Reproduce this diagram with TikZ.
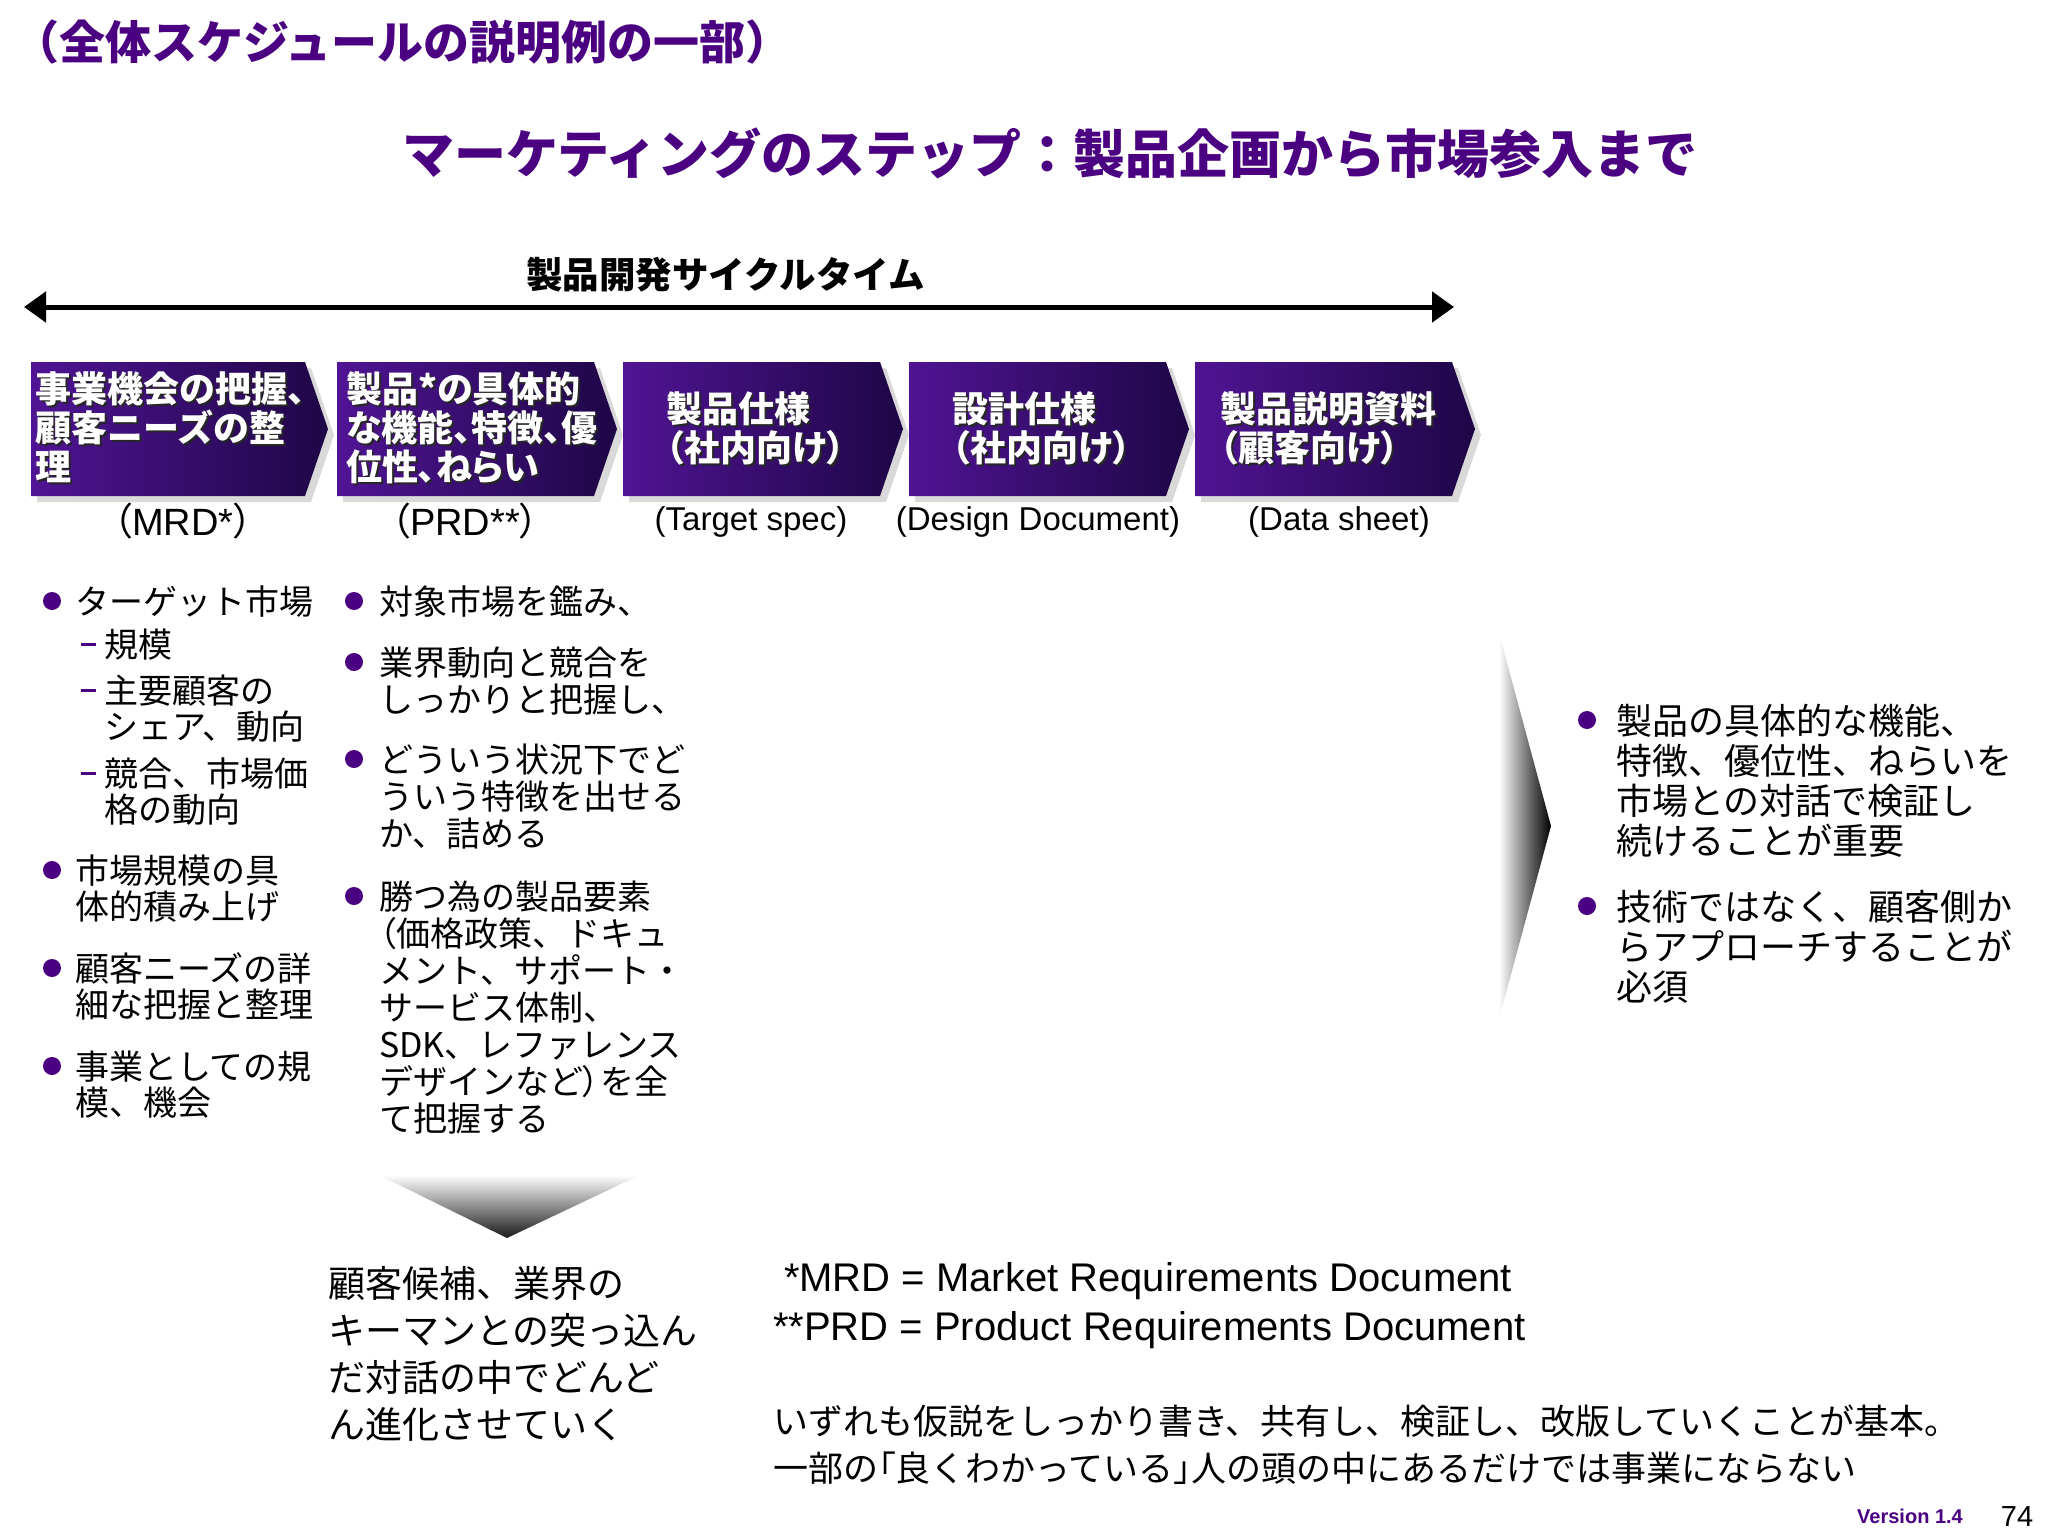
\documentclass[tikz,border=0pt]{standalone}
\usepackage{fontspec}
\setmainfont{Liberation Sans}
\newfontfamily\jp{Noto Sans CJK JP}
\newfontfamily\jpp[RawFeature=+palt]{Noto Sans CJK JP}
\usetikzlibrary{arrows.meta}
\definecolor{ttl}{RGB}{75,0,130}
\definecolor{chevL}{RGB}{80,20,148}
\definecolor{chevR}{RGB}{30,6,70}
\newcommand\fsz[2]{\fontsize{#1}{#2}\selectfont}
\newcommand\mychev[3]{%
  \fill[gray!30] (#1+6,368) -- (#2+6,368) -- (#3+6,435) -- (#2+6,502) -- (#1+6,502) -- cycle;
  \shade[left color=chevL,right color=chevR] (#1,362) -- (#2,362) -- (#3,429) -- (#2,496) -- (#1,496) -- cycle;}
\begin{document}
\begin{tikzpicture}[x=1pt,y=-1pt,
  every node/.style={inner sep=0pt,outer sep=0pt},
  title1/.style={font=\jp\bfseries\fsz{46}{50},text=ttl,anchor=base west},
  title2/.style={font=\jp\bfseries\fsz{52}{56},text=ttl,anchor=base west},
  subt/.style={font=\jp\bfseries\fsz{36.5}{40},text=black,anchor=base west},
  chevtx/.style={font=\jp\bfseries\fsz{36}{39},text=white,align=left,anchor=base west},
  chevtp/.style={font=\jpp\bfseries\fsz{36}{39},text=white,align=left,anchor=base west},
  chevsh/.style={chevtx,text=black!85},
  chevshp/.style={chevtp,text=black!85},
  lab/.style={font=\fsz{33}{36},anchor=base},
  labb/.style={font=\fsz{38}{40},anchor=base},
  colL/.style={font=\jp\fsz{34}{36},align=left,anchor=base west},
  colM/.style={font=\jp\fsz{34}{37},align=left,anchor=base west},
  colR/.style={font=\jp\fsz{36}{40},align=left,anchor=base west},
  bot/.style={font=\jp\fsz{37}{47},align=left,anchor=base west},
  note/.style={font=\fsz{40}{49},anchor=base west},
  jnote/.style={font=\jp\fsz{35}{47},align=left,anchor=base west},
  bul/.style={circle,fill=ttl,minimum size=18pt},
  dsh/.style={rectangle,fill=ttl,minimum width=15pt,minimum height=3pt}]
\fill[white] (0,0) rectangle (2048,1536);
\useasboundingbox (0,0) rectangle (2048,1536);

% titles
\node[title1] (t1) at (13,60) {（全体スケジュールの説明例の一部）};
\node[title2] (t2) at (402,174) {マーケティングのステップ：製品企画から市場参入まで};
\node[subt] (st) at (526,288) {製品開発サイクルタイム};

% cycle-time arrow
\coordinate (aL) at (24,307);
\coordinate (aR) at (1454,307);
\draw[line width=5pt,{Triangle[length=22pt,width=30pt]}-{Triangle[length=22pt,width=30pt]}] (aL) -- (aR);

% chevrons
\mychev{31}{305}{328}
\mychev{337}{594}{617}
\mychev{623}{880}{903}
\mychev{909}{1166}{1189}
\mychev{1195}{1452}{1475}

% (anchor base = baseline of the last line)
\node[chevsh] (c1s) at (37,482) {事業機会の把握、\\顧客ニーズの整\\理};
\node[chevtx] (c1) at (35,480) {事業機会の把握、\\顧客ニーズの整\\理};
\node[chevshp] (c2s) at (348,482) {製品*の具体的\\な機能、特徴、優\\位性、ねらい};
\node[chevtp] (c2) at (346,480) {製品*の具体的\\な機能、特徴、優\\位性、ねらい};
\node[chevshp] (c3s) at (668,463) {製品仕様\\（社内向け）};
\node[chevtp] (c3) at (666,461) {製品仕様\\（社内向け）};
\node[chevshp] (c4s) at (954,463) {設計仕様\\（社内向け）};
\node[chevtp] (c4) at (952,461) {設計仕様\\（社内向け）};
\node[chevshp] (c5s) at (1222,463) {製品説明資料\\（顧客向け）};
\node[chevtp] (c5) at (1220,461) {製品説明資料\\（顧客向け）};

% labels under chevrons
\node[labb] (l1) at (183,535) {{\jpp （}MRD*{\jpp ）}};
\node[labb] (l2) at (465,535) {{\jpp （}PRD**{\jpp ）}};
\node[lab] (l3) at (751,530) {(Target spec)};
\node[lab] (l4) at (1038,530) {(Design Document)};
\node[lab] (l5) at (1339,530) {(Data sheet)};

% left column
\node[bul] (bl1) at (52,601) {};
\node[colL] (tl1) at (75,614) {ターゲット市場};
\node[dsh] (dl1) at (88,644) {};
\node[colL] (sl1) at (104,657) {規模};
\node[dsh] (dl2) at (88,690) {};
\node[colL] (sl2) at (104,739) {主要顧客の\\シェア、動向};
\node[dsh] (dl3) at (88,773) {};
\node[colL] (sl3) at (104,822) {競合、市場価\\格の動向};
\node[bul] (bl2) at (52,870) {};
\node[colL] (tl2) at (75,919) {市場規模の具\\体的積み上げ};
\node[bul] (bl3) at (52,968) {};
\node[colL] (tl3) at (75,1017) {顧客ニーズの詳\\細な把握と整理};
\node[bul] (bl4) at (52,1066) {};
\node[colL] (tl4) at (75,1115) {事業としての規\\模、機会};

% middle column
\node[bul] (bm1) at (354,601) {};
\node[colM] (tm1) at (379,614) {対象市場を鑑み、};
\node[bul] (bm2) at (354,662) {};
\node[colM] (tm2) at (379,712) {業界動向と競合を\\しっかりと把握し、};
\node[bul] (bm3) at (354,759) {};
\node[colM] (tm3) at (379,846) {どういう状況下でど\\ういう特徴を出せる\\か、詰める};
\node[bul] (bm4) at (354,896) {};
\node[colM] (tm4) at (379,1131) {勝つ為の製品要素\\{\jpp （}価格政策、ドキュ\\メント、サポート・\\サービス体制、\\SDK、レファレンス\\デザインなど{\jpp ）}を全\\て把握する};

% down gradient arrow and bottom text
\shade[top color=white,bottom color=black!90] (379,1175) -- (640,1175) -- (507,1238) -- cycle;
\node[bot] (bt) at (328,1438) {顧客候補、業界の\\キーマンとの突っ込ん\\だ対話の中でどんど\\ん進化させていく};

% right wedge and right column
\shade[left color=white,right color=black] (1499,633) -- (1551,826) -- (1499,1019) -- cycle;
\node[bul] (br1) at (1587,720) {};
\node[colR] (tr1) at (1616,854) {製品の具体的な機能、\\特徴、優位性、ねらいを\\市場との対話で検証し\\続けることが重要};
\node[bul] (br2) at (1587,906) {};
\node[colR] (tr2) at (1616,1000) {技術ではなく、顧客側か\\らアプローチすることが\\必須};

% notes
\node[note] (n1) at (784,1291) {*MRD = Market Requirements Document};
\node[note] (n2) at (773,1340) {**PRD = Product Requirements Document};
\node[jnote] (n3) at (773,1481) {いずれも仮説をしっかり書き、共有し、検証し、改版していくことが基本。\\一部の{\jpp 「}良くわかっている{\jpp 」}人の頭の中にあるだけでは事業にならない};

% footer
\node[font=\bfseries\fsz{20}{22},text=ttl,anchor=base] (ver) at (1910,1523) {Version 1.4};
\node[font=\fsz{29}{30},anchor=base] (pg) at (2017,1526) {74};
\end{tikzpicture}
\end{document}
